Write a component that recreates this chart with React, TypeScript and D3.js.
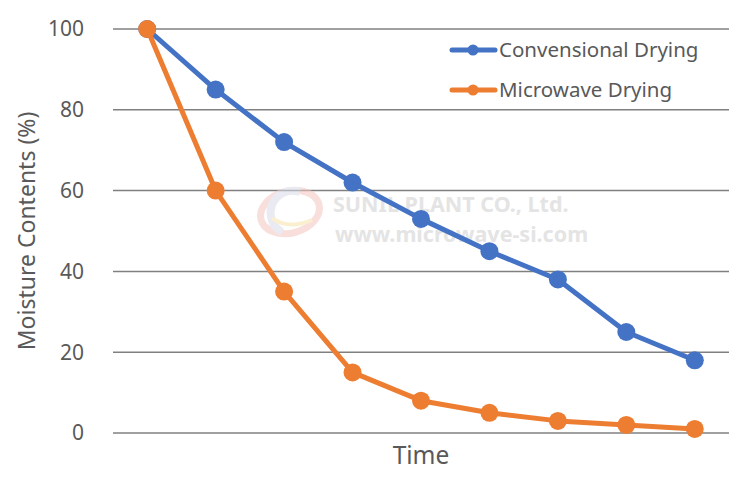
import { line, scaleLinear, scalePoint } from "d3";

const steps = ["t1", "t2", "t3", "t4", "t5", "t6", "t7", "t8", "t9"];
const conventional = [100, 85, 72, 62, 53, 45, 38, 25, 18];
const microwave = [100, 60, 35, 15, 8, 5, 3, 2, 1];
const yTicks = [0, 20, 40, 60, 80, 100];

const series = [
  { name: "Convensional Drying", values: conventional, color: "#4472c4" },
  { name: "Microwave Drying", values: microwave, color: "#ed7d31" },
];

export default function App() {
  const width = 750;
  const height = 490;
  const left = 113;
  const right = 729;
  const top = 29;
  const bottom = 433;
  const font = "'Noto Sans', 'Open Sans', sans-serif";

  const x = scalePoint<string>().domain(steps).range([left, right]).padding(0.5);
  const y = scaleLinear().domain([0, 100]).range([bottom, top]);

  const makeLine = (values: number[]) =>
    line<number>()
      .x((_, i) => x(steps[i]) ?? 0)
      .y((d) => y(d))(values) ?? "";

  return (
    <svg
      width={width}
      height={height}
      style={{ position: "fixed", left: 0, top: 0, background: "#fff" }}
      fontFamily={font}
    >
      {yTicks.map((t) => (
        <g key={t}>
          <line x1={left} x2={right} y1={y(t)} y2={y(t)} stroke="#808080" strokeWidth={1.5} />
          <text x={84} y={y(t)} dy="0.35em" textAnchor="end" fontSize={21} fill="#595959">
            {t}
          </text>
        </g>
      ))}

      {/* watermark */}
      <g opacity={0.55}>
        <ellipse cx={290} cy={212} rx={30} ry={21} fill="none" stroke="#f4c6c0" strokeWidth={7} transform="rotate(-15 290 212)" />
        <path d="M 300 192 A 22 22 0 0 0 282 232" fill="none" stroke="#d9dbe8" strokeWidth={8} />
        <path d="M 272 218 Q 288 230 312 220" fill="none" stroke="#f7e3a8" strokeWidth={4} />
      </g>
      <text x={333} y={212} fontSize={21.5} fontWeight={700} fill="#e4e4e4">
        SUNIL PLANT CO., Ltd.
      </text>
      <text x={335} y={242} fontSize={21.5} fontWeight={700} fill="#e4e4e4">
        www.microwave-si.com
      </text>

      {series.map((s) => (
        <g key={s.name}>
          <path d={makeLine(s.values)} fill="none" stroke={s.color} strokeWidth={5} strokeLinejoin="round" />
          {s.values.map((v, i) => (
            <circle key={i} cx={x(steps[i])} cy={y(v)} r={9} fill={s.color} />
          ))}
        </g>
      ))}

      {series.map((s, i) => {
        const ly = 50 + i * 40;
        return (
          <g key={s.name}>
            <line x1={452} x2={495} y1={ly} y2={ly} stroke={s.color} strokeWidth={5} strokeLinecap="round" />
            <circle cx={473} cy={ly} r={5.5} fill={s.color} />
            <text x={499} y={ly} dy="0.35em" fontSize={20.5} fill="#595959">
              {s.name}
            </text>
          </g>
        );
      })}

      <text x={421} y={464} textAnchor="middle" fontSize={24.5} fill="#595959">
        Time
      </text>
      <text
        transform={`translate(27, 231) rotate(-90)`}
        dy="0.35em"
        textAnchor="middle"
        fontSize={23}
        fill="#595959"
      >
        Moisture Contents (%)
      </text>
    </svg>
  );
}
